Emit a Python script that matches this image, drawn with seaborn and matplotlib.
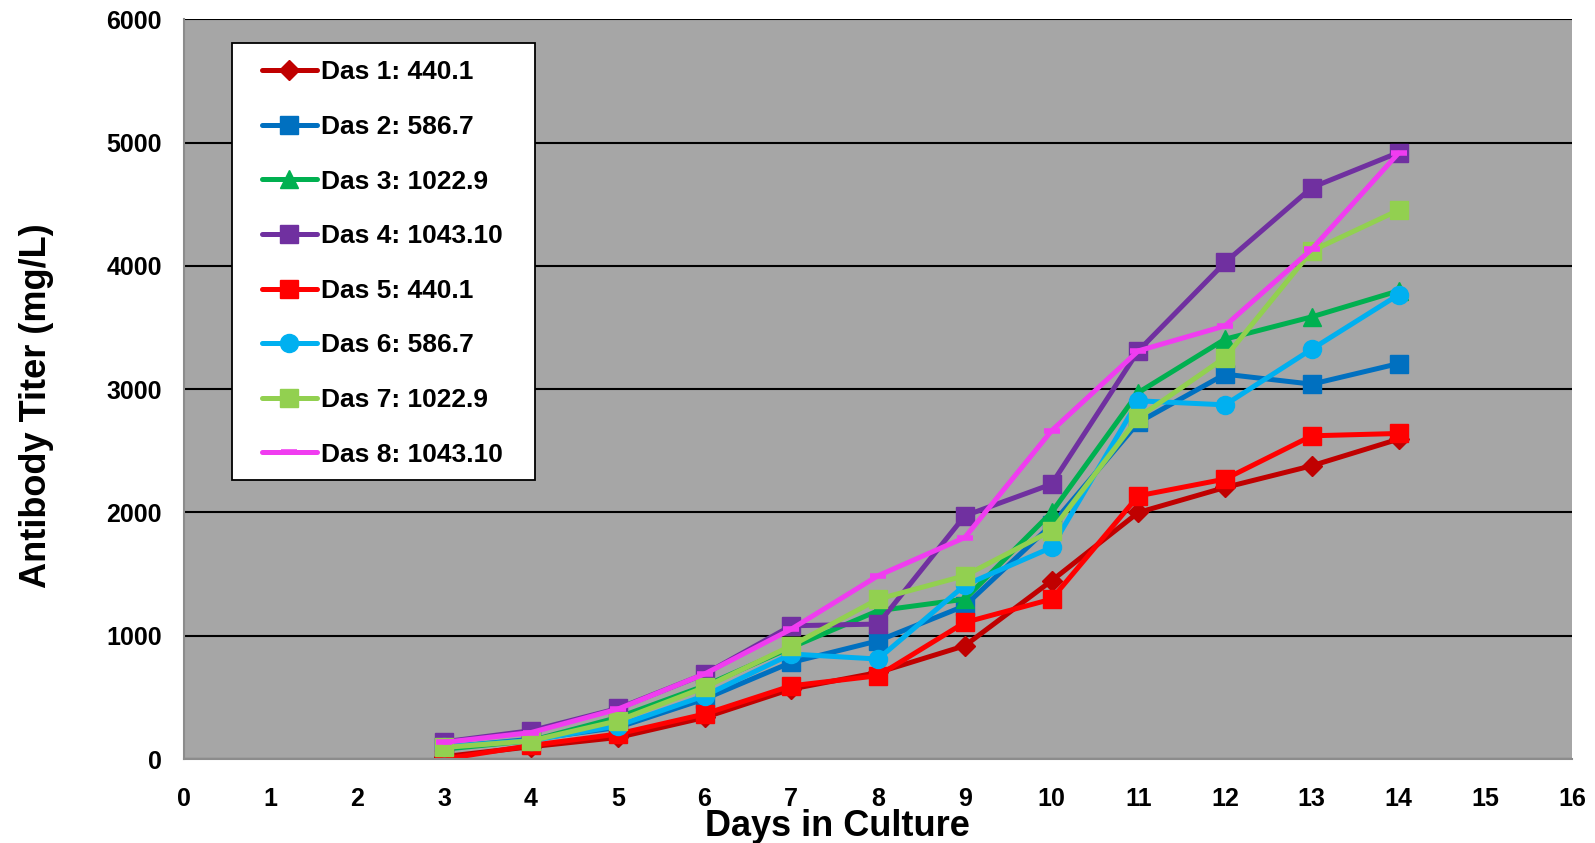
import matplotlib
matplotlib.use("Agg")
import matplotlib.pyplot as plt
from matplotlib.patches import Rectangle
import seaborn as sns
import pandas as pd

days = [3, 4, 5, 6, 7, 8, 9, 10, 11, 12, 13, 14]

das1 = [20, 100, 175, 337, 568, 702, 919, 1446, 2000, 2203, 2379, 2595]
das2 = [95, 160, 256, 487, 784, 959, 1243, 1900, 2730, 3122, 3041, 3208]
das3 = [80, 150, 337, 594, 905, 1203, 1297, 2000, 2973, 3406, 3587, 3798]
das4 = [140, 230, 410, 689, 1081, 1095, 1973, 2230, 3311, 4028, 4636, 4920]
das5 = [0, 110, 203, 365, 594, 676, 1108, 1297, 2135, 2271, 2622, 2641]
das6 = [100, 150, 270, 513, 852, 811, 1410, 1716, 2906, 2873, 3325, 3766]
das7 = [94, 148, 310, 581, 919, 1297, 1487, 1852, 2770, 3257, 4122, 4452]
das8 = [135, 215, 405, 690, 1054, 1487, 1797, 2663, 3311, 3514, 4136, 4915]

labels = ["Das 1: 440.1", "Das 2: 586.7", "Das 3: 1022.9", "Das 4: 1043.10",
          "Das 5: 440.1", "Das 6: 586.7", "Das 7: 1022.9", "Das 8: 1043.10"]
colors = ["#C00000", "#0070C0", "#00B050", "#7030A0",
          "#FF0000", "#00B0F0", "#92D050", "#F03CF0"]
markers = ["D", "s", "^", "s", "s", "o", "s", "_"]
msizes = [10, 13, 13, 13, 13, 13, 13, 12]

series = [das1, das2, das3, das4, das5, das6, das7, das8]

sns.set_style("white")
plt.rcParams["font.family"] = ["Liberation Sans", "DejaVu Sans"]
plt.rcParams["font.weight"] = "bold"
plt.rcParams["text.color"] = "black"
plt.rcParams["axes.labelcolor"] = "black"
plt.rcParams["xtick.labelcolor"] = "black"
plt.rcParams["ytick.labelcolor"] = "black"

fig = plt.figure(figsize=(15.95, 8.43), dpi=100)
ax = fig.add_axes([0.1154, 0.0996, 0.8702, 0.8774])
ax.set_facecolor("#A6A6A6")

for vals, lab, col, mk, ms in zip(series, labels, colors, markers, msizes):
    df = pd.DataFrame({"day": days, "titer": vals})
    sns.lineplot(data=df, x="day", y="titer", ax=ax, color=col, linewidth=3.6,
                 marker=mk, markersize=ms, markeredgecolor=col,
                 markeredgewidth=(4 if mk == "_" else 1), label=lab)

ax.set_xlim(0, 16)
ax.set_ylim(0, 6000)
ax.set_xticks(range(0, 17))
ax.set_yticks(range(0, 6001, 1000))
ax.yaxis.grid(True, color="black", linewidth=1.5)
ax.xaxis.grid(False)
ax.set_axisbelow(True)

for side in ["top", "right"]:
    ax.spines[side].set_visible(False)
for side in ["left", "bottom"]:
    ax.spines[side].set_color("#8C8C8C")
    ax.spines[side].set_linewidth(1.5)

ax.tick_params(axis="both", direction="out", length=8, width=1.5, color="#8C8C8C",
               labelsize=18, labelcolor="black")
ax.tick_params(axis="x", pad=12)
ax.tick_params(axis="y", pad=8)
for t in ax.get_xticklabels() + ax.get_yticklabels():
    t.set_fontweight("bold")

ax.set_xlabel("Days in Culture", fontsize=26, fontweight="bold", color="black")
ax.set_ylabel("Antibody Titer (mg/L)", fontsize=26, fontweight="bold", color="black")
ax.xaxis.set_label_coords(0.471, -0.068)
ax.yaxis.set_label_coords(-0.094, 0.478)

# legend box drawn as a plain white rectangle behind a frameless legend
ax.add_patch(Rectangle((0.0345, 0.377), 0.2184, 0.591, transform=ax.transAxes,
                       facecolor="white", edgecolor="black", linewidth=1.3,
                       zorder=4))
leg = ax.legend(loc="upper left", bbox_to_anchor=(0.0558, 0.9445), frameon=False,
                prop={"size": 19, "weight": "bold"}, handlelength=2.12,
                handletextpad=0.15, labelspacing=1.16, borderpad=0,
                borderaxespad=0, labelcolor="black")
leg.set_zorder(5)

fig.savefig("out.png", dpi=100)
